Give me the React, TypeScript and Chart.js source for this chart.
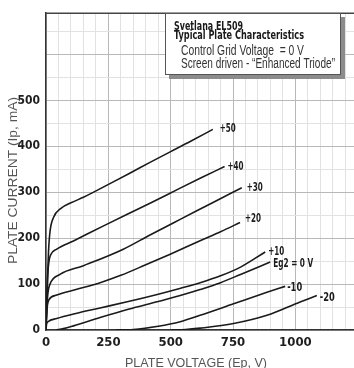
import React, { useEffect, useRef } from 'react';
import { Chart, registerables } from 'chart.js';

Chart.register(...registerables);

// ---------- data (plate voltage V, plate current mA) ----------
const curveLabels = ['+50', '+40', '+30', '+20', '+10', 'Eg2 = 0 V', '-10', '-20'];

const curveP50 = [[0, 0], [3, 50], [6, 110], [10, 170], [16, 214], [30, 245], [60, 265], [100, 277], [150, 289], [264, 321], [334, 341], [417, 365], [498, 388], [580, 411], [669, 437]];
const curveP40 = [[0, 0], [3, 60], [7, 120], [12, 150], [18, 163], [43, 176], [110, 194], [243, 230], [417, 276], [538, 309], [620, 331], [716, 356]];
const curveP30 = [[0, 0], [3, 45], [8, 82], [16, 100], [56, 121], [150, 140], [310, 176], [417, 207], [538, 241], [660, 275], [785, 310]];
const curveP20 = [[0, 0], [2, 30], [6, 55], [12, 66], [43, 76], [120, 88], [217, 103], [300, 119], [400, 142], [498, 165], [620, 195], [700, 214], [778, 234]];
const curveP10 = [[0, 0], [2, 12], [8, 18], [43, 25], [120, 36], [217, 48], [330, 62], [450, 78], [540, 91], [618, 103], [700, 118], [780, 137], [879, 170]];
const curveEg0 = [[40, 0], [70, 3], [110, 9], [217, 27], [330, 45], [450, 62], [538, 75], [618, 88], [700, 103], [780, 121], [899, 148]];
const curveM10 = [[280, 0], [350, 1], [450, 8], [538, 18], [618, 32], [752, 57], [886, 82], [959, 95]];
const curveM20 = [[500, 0], [560, 1], [618, 4], [752, 14], [886, 32], [1019, 61], [1086, 75]];

const curves = [curveP50, curveP40, curveP30, curveP20, curveP10, curveEg0, curveM10, curveM20];

const xLabelValues = [0, 250, 500, 750, 1000];
const yLabelValues = [0, 100, 200, 300, 400, 500];

const boxTitle = ['Svetlana EL509', 'Typical Plate Characteristics'];
const boxLines = ['Control Grid Voltage  = 0 V', 'Screen driven - \u201CEnhanced Triode\u201D'];
const xTitle = 'PLATE VOLTAGE (Ep, V)';
const yTitle = 'PLATE CURRENT (Ip, mA)';

// ---------- styling ----------
const NARROW = "'Liberation Sans Narrow', 'DejaVu Sans Condensed', 'Liberation Sans', Arial, sans-serif";
const REG = "'Liberation Sans', Arial, sans-serif";
const X_MAX = 1235;
const Y_MAX = 690;
// label offsets from the end point of each curve (px) and target text widths
const labelStyle = [
  { dx: 7, dy: -1, w: 16 },
  { dx: 3, dy: 0, w: 16 },
  { dx: 5, dy: 0, w: 16 },
  { dx: 5, dy: -4, w: 16 },
  { dx: 3, dy: 0, w: 16 },
  { dx: 3, dy: 2, w: 40 },
  { dx: 2, dy: 1, w: 15 },
  { dx: 3, dy: 2, w: 15 },
];

function drawFit(ctx: CanvasRenderingContext2D, text: string, x: number, y: number, width: number, font: string, color: string, baseline: CanvasTextBaseline = 'alphabetic') {
  ctx.save();
  ctx.font = font;
  ctx.fillStyle = color;
  ctx.textBaseline = baseline;
  ctx.textAlign = 'left';
  const w = ctx.measureText(text).width || 1;
  ctx.translate(x, y);
  ctx.scale(width / w, 1);
  ctx.fillText(text, 0, 0);
  ctx.restore();
}

const overlayPlugin = {
  id: 'overlay',
  afterDraw(chart: any) {
    const ctx: CanvasRenderingContext2D = chart.ctx;
    const { chartArea } = chart;
    const xs = chart.scales.x;
    const ys = chart.scales.y;

    // top frame line
    ctx.save();
    ctx.strokeStyle = '#444';
    ctx.lineWidth = 1.5;
    ctx.beginPath();
    ctx.moveTo(chartArea.left, chartArea.top);
    ctx.lineTo(chartArea.right, chartArea.top);
    ctx.stroke();
    ctx.restore();

    // curve labels
    curves.forEach((c, i) => {
      const last = c[c.length - 1];
      const px = xs.getPixelForValue(last[0]) + labelStyle[i].dx;
      const py = ys.getPixelForValue(last[1]) + labelStyle[i].dy;
      drawFit(ctx, curveLabels[i], px, py, labelStyle[i].w, `bold 13px ${NARROW}`, '#1a1a1a', 'middle');
    });

    // info box
    ctx.save();
    ctx.fillStyle = '#8c8c8c';
    ctx.fillRect(169, 17, 176, 62);
    ctx.fillStyle = '#ffffff';
    ctx.fillRect(165, 13, 176, 62);
    ctx.strokeStyle = '#555';
    ctx.lineWidth = 1;
    ctx.strokeRect(165.5, 13.5, 175, 61);
    ctx.restore();
    drawFit(ctx, boxTitle[0], 174, 30, 69, `bold 13px ${NARROW}`, '#1a1a1a');
    drawFit(ctx, boxTitle[1], 174, 38.5, 130, `bold 13px ${NARROW}`, '#1a1a1a');
    drawFit(ctx, boxLines[0], 181, 55, 123, `14px ${REG}`, '#333');
    drawFit(ctx, boxLines[1], 181, 68, 154, `14px ${REG}`, '#333');

    // axis titles
    drawFit(ctx, xTitle, 125, 367, 142, `13px ${REG}`, '#555');
    ctx.save();
    ctx.translate(17, 264);
    ctx.rotate(-Math.PI / 2);
    drawFit(ctx, yTitle, 0, 0, 167, `13px ${REG}`, '#555');
    ctx.restore();
  },
};

export default function App() {
  const ref = useRef<HTMLCanvasElement | null>(null);

  useEffect(() => {
    document.body.style.margin = '0';
    const canvas = ref.current;
    if (!canvas) return;
    const chart = new Chart(canvas, {
      type: 'line',
      data: {
        datasets: curves.map((c, i) => ({
          label: curveLabels[i],
          data: c.map(([x, y]) => ({ x, y })),
          borderColor: '#1a1a1a',
          borderWidth: 1.6,
          pointRadius: 0,
          fill: false,
          cubicInterpolationMode: 'monotone' as const,
        })),
      },
      options: {
        animation: false,
        responsive: false,
        maintainAspectRatio: false,
        events: [],
        layout: { padding: { top: 8, left: 0, right: 0, bottom: 0 } },
        plugins: { legend: { display: false }, tooltip: { enabled: false }, title: { display: false } },
        scales: {
          x: {
            type: 'linear',
            min: 0,
            max: X_MAX,
            afterFit: (s: any) => { s.height = 38; },
            ticks: {
              stepSize: 50,
              includeBounds: false,
              autoSkip: false,
              maxRotation: 0,
              padding: 5,
              color: '#1e1e1e',
              font: { family: NARROW, size: 13, weight: 'bold' },
              callback: (v: any) => (xLabelValues.includes(Number(v)) ? String(v) : ''),
            },
            grid: {
              drawTicks: false,
              color: (c: any) => (c.tick && c.tick.value % 250 === 0 ? '#b8b8b8' : '#e2e2e2'),
              lineWidth: 1,
            },
            border: { display: true, color: '#333', width: 1.5 },
          },
          y: {
            type: 'linear',
            min: 0,
            max: Y_MAX,
            afterFit: (s: any) => { s.width = 46; },
            ticks: {
              stepSize: 50,
              includeBounds: false,
              autoSkip: false,
              padding: 6,
              color: '#1e1e1e',
              font: { family: NARROW, size: 12, weight: 'bold' },
              callback: (v: any) => (yLabelValues.includes(Number(v)) ? String(v) : ''),
            },
            grid: {
              drawTicks: false,
              color: (c: any) => (c.tick && c.tick.value % 100 === 0 ? '#b8b8b8' : '#e2e2e2'),
              lineWidth: 1,
            },
            border: { display: true, color: '#333', width: 1.5 },
          },
        },
      },
      plugins: [overlayPlugin],
    } as any);
    return () => chart.destroy();
  }, []);

  return (
    <div style={{ position: 'absolute', left: 0, top: 0, width: 354, height: 368, background: '#fff' }}>
      <canvas ref={ref} width={354} height={368} style={{ width: 354, height: 368, display: 'block' }} />
    </div>
  );
}
